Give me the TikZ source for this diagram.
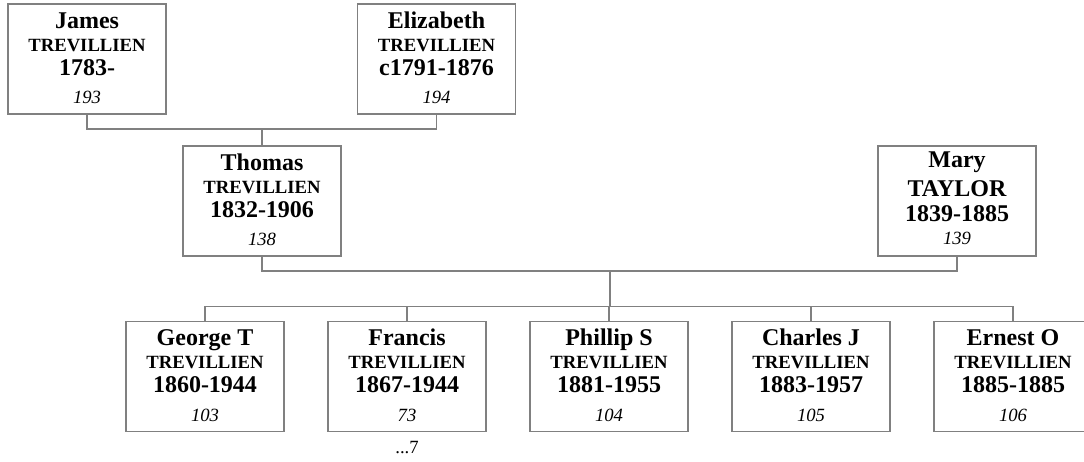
\documentclass[tikz,border=0pt]{standalone}
\usepackage{fontspec}
\setmainfont{Liberation Serif}
\definecolor{linegray}{RGB}{128,128,128}
\newcommand\namefont{\fontsize{18pt}{20pt}\selectfont\bfseries}
\newcommand\surfont{\fontsize{14pt}{16pt}\selectfont\bfseries}
\newcommand\numfont{\fontsize{14pt}{16pt}\selectfont\itshape}
\newcommand\pline[2]{\hbox to\hsize{\hss\rule{0pt}{#1}\smash{#2}\hss}}
% person box: name, surname, dates, number
\newcommand\person[4]{\vbox to 82.5pt{\hsize=118.5pt\offinterlineskip
  \pline{18pt}{\namefont #1}%
  \pline{17.25pt}{\surfont #2}%
  \pline{18pt}{\namefont #3}%
  \pline{21.4pt}{\numfont #4}%
  \vss}}
\newcommand\personbig[4]{\vbox to 82.5pt{\hsize=118.5pt\offinterlineskip
  \pline{15.75pt}{\namefont #1}%
  \pline{21.75pt}{\namefont #2}%
  \pline{18.75pt}{\namefont #3}%
  \pline{17.6pt}{\numfont #4}%
  \vss}}
\tikzset{
  pbox/.style={draw=linegray, line width=0.8pt, inner sep=0pt, outer sep=0pt, anchor=north west, fill=white},
  conn/.style={draw=linegray, line width=0.8pt},
}
\begin{document}
\begin{tikzpicture}[x=0.75pt, y=-0.75pt]
\clip (0,0) rectangle (1084,461);
\fill[white] (0,0) rectangle (1084,461);
% generation 1
\node[pbox] (james) at (8,4) {\person{James}{TREVILLIEN}{1783-}{193}};
\node[pbox] (eliz) at (357.5,4) {\person{Elizabeth}{TREVILLIEN}{c1791-1876}{194}};
% generation 2
\node[pbox] (thomas) at (183,146) {\person{Thomas}{TREVILLIEN}{1832-1906}{138}};
\node[pbox] (mary) at (878,146) {\personbig{Mary}{TAYLOR}{1839-1885}{139}};
% generation 3
\node[pbox] (george) at (126,321.7) {\person{George T}{TREVILLIEN}{1860-1944}{103}};
\node[pbox] (francis) at (328,321.7) {\person{Francis}{TREVILLIEN}{1867-1944}{73}};
\node[pbox] (phillip) at (530,321.7) {\person{Phillip S}{TREVILLIEN}{1881-1955}{104}};
\node[pbox] (charles) at (732,321.7) {\person{Charles J}{TREVILLIEN}{1883-1957}{105}};
\node[pbox] (ernest) at (934,321.7) {\person{Ernest O}{TREVILLIEN}{1885-1885}{106}};
\node[anchor=base, inner sep=0pt] (more) at (407,453) {\fontsize{14pt}{16pt}\selectfont ...7};
% connectors
\coordinate (pj) at (262,129);
\draw[conn] (james.south) |- (pj) -| (eliz.south);
\draw[conn] (pj) -- (thomas.north);
\coordinate (cm) at (610,271);
\coordinate (cb) at (610,306.7);
\draw[conn] (thomas.south) |- (cm) -| (mary.south);
\draw[conn] (cm) -- (cb);
\draw[conn] (george.north) |- (cb) -| (ernest.north);
\draw[conn] (francis.north) -- (francis.north |- cb);
\draw[conn] (phillip.north) -- (phillip.north |- cb);
\draw[conn] (charles.north) -- (charles.north |- cb);
\end{tikzpicture}
\end{document}
